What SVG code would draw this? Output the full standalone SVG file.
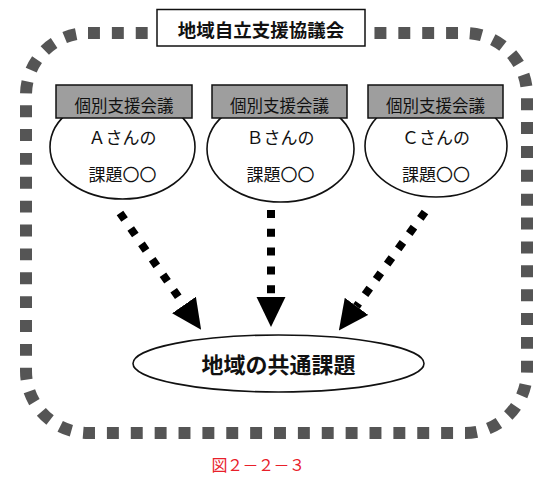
<svg xmlns="http://www.w3.org/2000/svg" width="550" height="477" viewBox="0 0 550 477">
<style>
.t{font-family:"Noto Sans CJK JP","Noto Sans",sans-serif;text-anchor:middle;fill:#111}
.gbox{fill:#9e9e9e;stroke:#111;stroke-width:1.5}
.ell{fill:#fff;stroke:#111;stroke-width:1.6}
.arr{stroke:#000;stroke-width:8;stroke-dasharray:8 10.8;fill:none;marker-end:url(#head)}
</style>
<defs>
<marker id="head" markerUnits="userSpaceOnUse" markerWidth="30" markerHeight="30" viewBox="0 -14 28 28" refX="0" refY="0" orient="auto">
<path d="M0,-13.5 L28,0 L0,13.5 Z" fill="#000"/>
</marker>
</defs>
<rect width="550" height="477" fill="#fff"/>
<g id="frame">
<rect x="26" y="33" width="501" height="400" rx="62" ry="62" fill="none" stroke="#555" stroke-width="12" stroke-dasharray="12 12" pathLength="1704"/>
</g>
<g id="title">
<rect x="157" y="9.5" width="208" height="36.5" fill="#fff" stroke="#111" stroke-width="1.5"/>
<text class="t" x="261" y="37" font-size="18.5" font-weight="bold">地域自立支援協議会</text>
</g>
<g id="nodeA">
<ellipse class="ell" cx="122.5" cy="147" rx="72.5" ry="52"/>
<rect class="gbox" x="56" y="85" width="136" height="33"/>
<text class="t" x="124" y="112" font-size="16.5">個別支援会議</text>
<text class="t" x="122.5" y="144" font-size="17">Ａさんの</text>
<text class="t" x="122.5" y="181" font-size="17">課題〇〇</text>
</g>
<g id="nodeB">
<ellipse class="ell" cx="280.5" cy="149" rx="73.5" ry="53"/>
<rect class="gbox" x="212" y="85" width="135" height="33"/>
<text class="t" x="279.5" y="112" font-size="16.5">個別支援会議</text>
<text class="t" x="280.5" y="144" font-size="17">Ｂさんの</text>
<text class="t" x="280.5" y="181" font-size="17">課題〇〇</text>
</g>
<g id="nodeC">
<ellipse class="ell" cx="436" cy="146" rx="71" ry="51"/>
<rect class="gbox" x="368" y="85" width="135" height="33"/>
<text class="t" x="435.5" y="112" font-size="16.5">個別支援会議</text>
<text class="t" x="436" y="144" font-size="17">Ｃさんの</text>
<text class="t" x="436" y="181" font-size="17">課題〇〇</text>
</g>
<g id="common">
<ellipse class="ell" cx="278.5" cy="363.5" rx="145.5" ry="28.5" stroke-width="1.8"/>
<text class="t" x="278.5" y="373" font-size="22" font-weight="bold">地域の共通課題</text>
</g>
<g id="connectors">
<line class="arr" x1="120" y1="213" x2="184" y2="305"/>
<line class="arr" x1="271" y1="210" x2="271" y2="297"/>
<line class="arr" x1="425" y1="212" x2="356.5" y2="306.3"/>
</g>
<g id="caption">
<text class="t" x="258" y="471" font-size="16" letter-spacing="-0.5" style="fill:#e8202a">図２－２－３</text>
</g>
</svg>
